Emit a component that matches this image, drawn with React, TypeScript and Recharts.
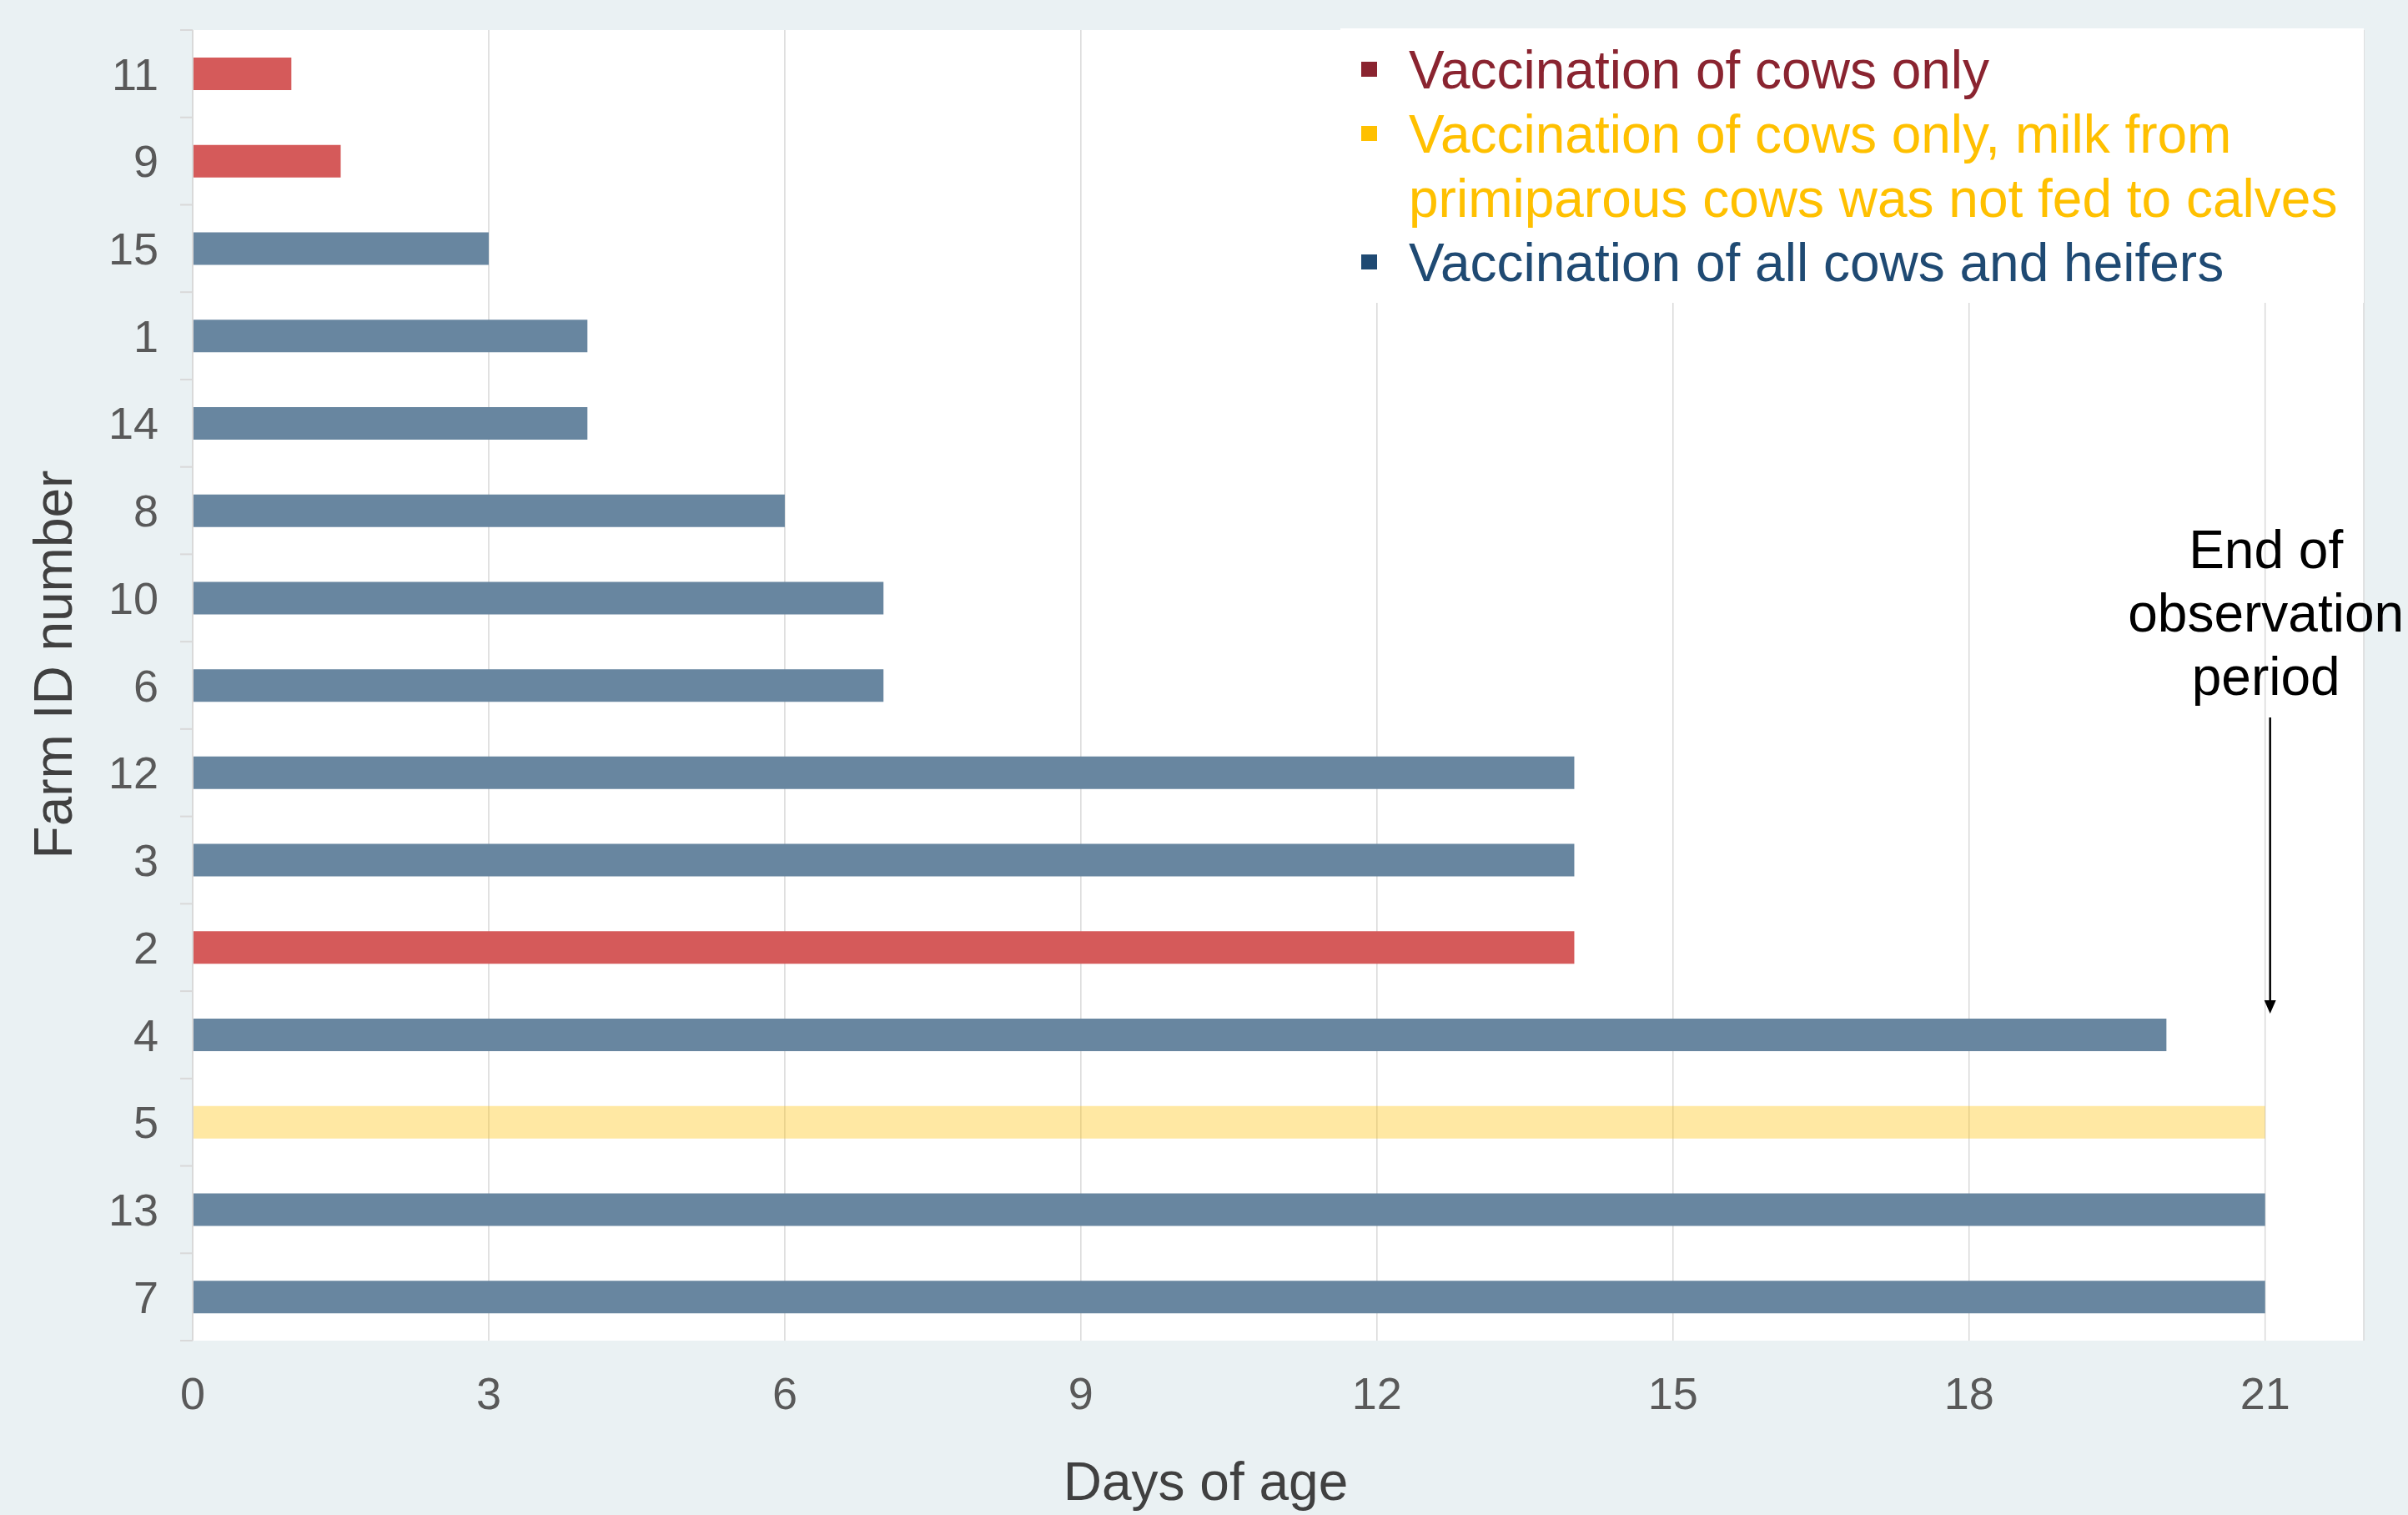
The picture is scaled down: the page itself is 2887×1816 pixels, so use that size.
import React from 'react';
import { BarChart, Bar, XAxis, YAxis, CartesianGrid, Cell, ReferenceLine } from 'recharts';

// farms top to bottom, days until first case
const farmIds = ['11', '9', '15', '1', '14', '8', '10', '6', '12', '3', '2', '4', '5', '13', '7'];
const daysOfAge = [1, 1.5, 3, 4, 4, 6, 7, 7, 14, 14, 14, 20, 21, 21, 21];
const farmGroup = ['cows', 'cows', 'all', 'all', 'all', 'all', 'all', 'all', 'all', 'all', 'cows', 'all', 'cowsMilk', 'all', 'all'];
const dayTicks = [0, 3, 6, 9, 12, 15, 18, 21];
const legendGroups = ['cows', 'cowsMilk', 'all'];
const legendLabels = [
    'Vaccination of cows only',
    'Vaccination of cows only, milk from primiparous cows was not fed to calves',
    'Vaccination of all cows and heifers',
];
const observationEnd = 21;
const annotationLines = ['End of', 'observation', 'period'];

const barStyle: Record<string, { fill: string; opacity: number }> = {
    cows: { fill: '#D55A5A', opacity: 1 },
    cowsMilk: { fill: '#FFC000', opacity: 0.36 },
    all: { fill: '#6886A0', opacity: 1 },
};
const legendColor: Record<string, string> = {
    cows: '#8A2430',
    cowsMilk: '#FFC000',
    all: '#1F4A73',
};

const data = farmIds.map((farm, i) => ({ farm, days: daysOfAge[i], group: farmGroup[i] }));

const W = 2887;
const H = 1816;
const Y_TICK_SIZE = 15;
const Y_TICK_MARGIN = 26;
const PLOT_H = 1571;
const FONT = '"Liberation Sans", Arial, sans-serif';

const FarmTick = (props: any) => {
    const { x, y, payload, index, height, visibleTicksCount } = props;
    const h = typeof height === 'number' && height > 0 ? height : PLOT_H;
    const band = h / (visibleTicksCount || farmIds.length);
    const axisX = x + Y_TICK_SIZE + Y_TICK_MARGIN;
    return (
        <g>
            <line x1={axisX - Y_TICK_SIZE} x2={axisX} y1={y - band / 2} y2={y - band / 2} stroke="#D9D9D9" strokeWidth={2} />
            {index === farmIds.length - 1 && (
                <line x1={axisX - Y_TICK_SIZE} x2={axisX} y1={y + band / 2} y2={y + band / 2} stroke="#D9D9D9" strokeWidth={2} />
            )}
            <text x={x} y={y} dy="0.355em" textAnchor="end" fontSize={54} fill="#595959">
                {payload.value}
            </text>
        </g>
    );
};

const XTitle = (props: any) => {
    const vb = props.viewBox;
    return (
        <text x={vb.x + vb.width / 2 - 87} y={vb.y + vb.height - 18} textAnchor="middle" fontSize={64} fill="#404040">
            Days of age
        </text>
    );
};

const YTitle = (props: any) => {
    const vb = props.viewBox;
    const cx = vb.x + 86;
    const cy = vb.y + vb.height / 2 - 25;
    return (
        <text x={cx} y={cy} transform={`rotate(-90 ${cx} ${cy})`} textAnchor="middle" fontSize={64} fill="#404040">
            Farm ID number
        </text>
    );
};

const EndMarker = (props: any) => {
    const vb = props.viewBox || {};
    const x = vb.x ?? vb.x1 ?? 0;
    const y = vb.y ?? vb.y1 ?? 0;
    return (
        <g>
            {annotationLines.map((t, i) => (
                <text key={t} x={x + 1} y={y + 645 + i * 76} textAnchor="middle" fontSize={64} fill="#000">
                    {t}
                </text>
            ))}
            <line x1={x + 6} x2={x + 6} y1={y + 824} y2={y + 1165} stroke="#000" strokeWidth={2.5} />
            <path d={`M${x - 1} ${y + 1163} L${x + 13} ${y + 1163} L${x + 6} ${y + 1179} Z`} fill="#000" />
        </g>
    );
};

export default function App() {
    return (
        <div style={{ position: 'absolute', left: 0, top: 0, width: W, height: H, background: '#EAF1F3', fontFamily: FONT }}>
            <BarChart
                width={W}
                height={H}
                data={data}
                layout="vertical"
                margin={{ top: 36, right: 53, left: 0, bottom: 0 }}
            >
                <CartesianGrid horizontal={false} stroke="#D9D9D9" strokeWidth={1.5} fill="#FFFFFF" fillOpacity={1} />
                <XAxis
                    type="number"
                    domain={[0, 22]}
                    ticks={dayTicks}
                    axisLine={false}
                    tickLine={false}
                    tickSize={6}
                    tickMargin={38}
                    height={209}
                    tick={{ fontSize: 54, fill: '#595959' }}
                    label={XTitle}
                />
                <YAxis
                    type="category"
                    dataKey="farm"
                    width={231}
                    interval={0}
                    axisLine={{ stroke: '#D9D9D9', strokeWidth: 2 }}
                    tickLine={false}
                    tickSize={Y_TICK_SIZE}
                    tickMargin={Y_TICK_MARGIN}
                    tick={<FarmTick />}
                    label={YTitle}
                />
                <Bar dataKey="days" barSize={39} isAnimationActive={false}>
                    {data.map((d) => (
                        <Cell key={d.farm} fill={barStyle[d.group].fill} fillOpacity={barStyle[d.group].opacity} />
                    ))}
                </Bar>
                <ReferenceLine x={observationEnd} stroke="transparent" label={EndMarker} />
            </BarChart>
            <div
                style={{
                    position: 'absolute',
                    left: 1607,
                    top: 34,
                    width: 1227,
                    height: 329,
                    background: '#FFFFFF',
                    padding: '12px 0 0 25px',
                    boxSizing: 'border-box',
                    fontSize: 64,
                    lineHeight: '77px',
                }}
            >
                {legendGroups.map((g, i) => (
                    <div key={g} style={{ display: 'flex', alignItems: 'flex-start', color: legendColor[g] }}>
                        <span style={{ width: 19, height: 18, background: legendColor[g], marginTop: 28, flex: 'none' }} />
                        <span style={{ marginLeft: 38, width: 1140 }}>{legendLabels[i]}</span>
                    </div>
                ))}
            </div>
        </div>
    );
}
